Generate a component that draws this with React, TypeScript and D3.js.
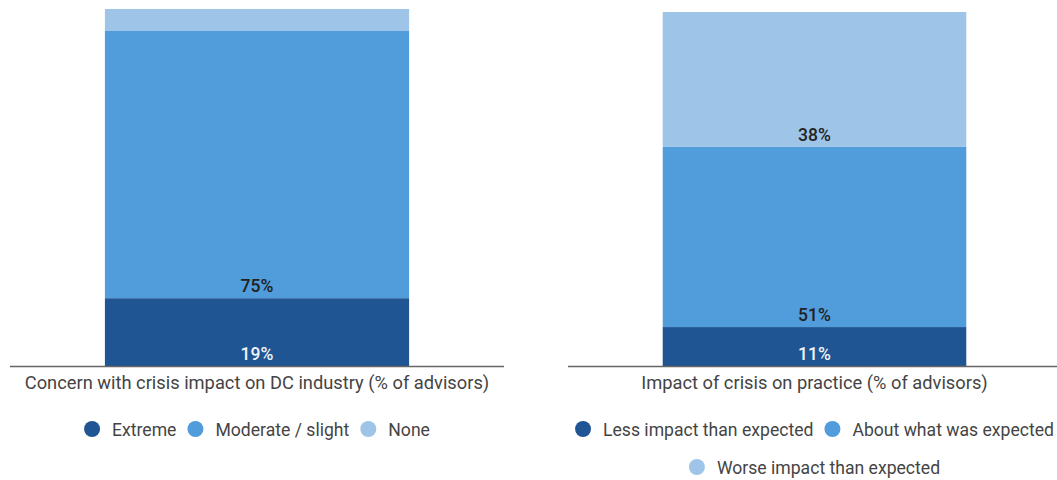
import React, { useEffect, useRef } from "react";
import * as d3 from "d3";

const W = 1057;
const H = 480;

const leftTitle = "Concern with crisis impact on DC industry (% of advisors)";
const leftSeries = ["Extreme", "Moderate / slight", "None"];
const leftValues = [19, 75, 6];
const leftShowLabel = [true, true, false];

const rightTitle = "Impact of crisis on practice (% of advisors)";
const rightSeries = ["Less impact than expected", "About what was expected", "Worse impact than expected"];
const rightValues = [11, 51, 38];
const rightShowLabel = [true, true, true];

const colors = ["#1f5593", "#519cdb", "#9ec4e7"];
const labelColors = ["#eef3f9", "#222222", "#222222"];

const panels = [
  { title: leftTitle, series: leftSeries, values: leftValues, show: leftShowLabel, x0: 10, x1: 504, top: 9 },
  { title: rightTitle, series: rightSeries, values: rightValues, show: rightShowLabel, x0: 568, x1: 1061, top: 12 },
];

const baseline = 366;
const FONT = "Roboto, 'Noto Sans', Arial, sans-serif";

export default function App() {
  const ref = useRef<SVGSVGElement | null>(null);

  useEffect(() => {
    const svg = d3.select(ref.current);
    svg.selectAll("*").remove();

    panels.forEach((p) => {
      const g = svg.append("g");
      const x = d3.scaleBand<string>().domain([p.title]).range([p.x0, p.x1]).paddingInner(0).paddingOuter(0.312).align(0.5);
      const y = d3.scaleLinear().domain([0, 100]).range([baseline, p.top]);

      let acc = 0;
      const stacked = p.values.map((v, i) => {
        const s = { i, v, y0: acc, y1: acc + v };
        acc += v;
        return s;
      });

      g.selectAll("rect.seg")
        .data(stacked)
        .join("rect")
        .attr("class", "seg")
        .attr("x", x(p.title)!)
        .attr("width", x.bandwidth())
        .attr("y", (d) => y(d.y1))
        .attr("height", (d) => y(d.y0) - y(d.y1))
        .attr("fill", (d) => colors[d.i]);

      g.selectAll("text.lbl")
        .data(stacked.filter((d) => p.show[d.i]))
        .join("text")
        .attr("class", "lbl")
        .attr("x", x(p.title)! + x.bandwidth() / 2)
        .attr("y", (d) => y(d.y0) - 6)
        .attr("text-anchor", "middle")
        .attr("font-family", FONT)
        .attr("font-size", 17.5)
        .attr("font-weight", 500)
        .attr("fill", (d) => labelColors[d.i])
        .text((d) => `${d.v}%`);

      // axis line
      g.append("line")
        .attr("x1", p.x0)
        .attr("x2", p.x1)
        .attr("y1", baseline + 0.5)
        .attr("y2", baseline + 0.5)
        .attr("stroke", "#666")
        .attr("stroke-width", 1.5);

      const cx = (p.x0 + p.x1) / 2;
      g.append("text")
        .attr("x", cx)
        .attr("y", 388.5)
        .attr("text-anchor", "middle")
        .attr("font-family", FONT)
        .attr("font-size", 18.3)
        .attr("fill", "#444")
        .text(p.title);

      // legend with wrapping
      const maxW = p.x1 - p.x0;
      const items = p.series.map((s, i) => {
        const t = g.append("text")
          .attr("font-family", FONT)
          .attr("font-size", 17.6)
          .attr("fill", "#444")
          .attr("dominant-baseline", "central")
          .text(s);
        const tw = (t.node() as SVGTextElement).getComputedTextLength();
        return { s, i, t, w: 16 + 12 + tw };
      });
      const rows: typeof items[] = [];
      let cur: typeof items = [];
      let curW = 0;
      items.forEach((it) => {
        const add = (cur.length ? 11 : 0) + it.w;
        if (cur.length && curW + add > maxW) {
          rows.push(cur);
          cur = [it];
          curW = it.w;
        } else {
          cur.push(it);
          curW += add;
        }
      });
      if (cur.length) rows.push(cur);
      rows.forEach((row, ri) => {
        const rw = row.reduce((a, it) => a + it.w, 0) + 11 * (row.length - 1);
        let xx = cx - rw / 2;
        const yy = 429 + ri * 38;
        row.forEach((it) => {
          g.append("circle").attr("cx", xx + 8).attr("cy", yy).attr("r", 8).attr("fill", colors[it.i]);
          it.t.attr("x", xx + 28).attr("y", yy + 1);
          xx += it.w + 11;
        });
      });
    });
  }, []);

  return (
    <div style={{ position: "absolute", left: 0, top: 0 }}>
      <svg ref={ref} width={W} height={H} style={{ display: "block", background: "#fff" }} />
    </div>
  );
}
